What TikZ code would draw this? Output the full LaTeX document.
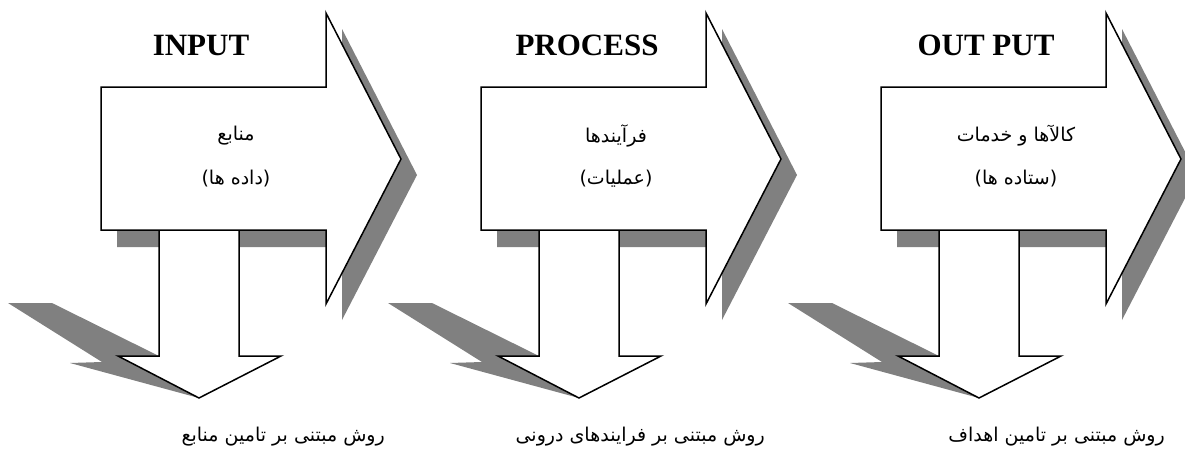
\documentclass[tikz,border=0pt]{standalone}
\usepackage{fontspec}
\setmainfont{Liberation Serif}
\newfontfamily\farsifont[Script=Arabic]{DejaVu Sans}
\TeXXeTstate=1
\usetikzlibrary{positioning}
\definecolor{shadowgray}{RGB}{128,128,128}
\tikzset{
    %Define style for the big arrows
    arrowbox/.style={
           draw=black,
           line width=1.5pt,
           line join=miter,
           fill=white},
    %Define style for the flat shadows
    arrowshadow/.style={
           fill=shadowgray,
           draw=none},
    %Define styles for texts
    titletext/.style={
           font=\bfseries\fontsize{31}{31}\selectfont,
           inner sep=0pt},
    farsitext/.style={
           font=\farsifont\fontsize{19}{19}\selectfont,
           inner sep=0pt}
}
\newcommand{\rtl}[1]{\beginR #1\endR}

\begin{document}
\begin{tikzpicture}[x=1pt,y=-1pt]
\useasboundingbox (0,0) rectangle (1185,461);
\foreach \i/\dx/\tx/\ttl/\lineA/\lineB/\lbl in {
    1/0/201/INPUT/{منابع}/{(داده ها)}/{روش مبتنی بر تامین منابع},
    2/380/207/PROCESS/{فرآیندها}/{(عملیات)}/{روش مبتنی بر فرایندهای درونی},
    3/780/206/OUT PUT/{کالآها و خدمات}/{(ستاده ها)}/{روش مبتنی بر تامین اهداف}}{
  \begin{scope}[xshift=\dx]
  % shadows
  \fill[arrowshadow] (117,103) -- (342,103) -- (342,29) -- (417,175) -- (342,320) -- (342,247) -- (117,247) -- cycle;
  \fill[arrowshadow] (8,303) -- (52,303) -- (159,356) -- (199,398) -- (70,363) -- (102,362) -- cycle;
  % down arrow
  \draw[arrowbox] (159,230) -- (239,230) -- (239,356) -- (281,356) -- (199,398) -- (118,356) -- (159,356) -- cycle;
  % right arrow
  \draw[arrowbox] (101,87) -- (326,87) -- (326,13) -- (401,159) -- (326,304) -- (326,230) -- (101,230) -- cycle;
  % texts
  \node[titletext] (title\i) at (\tx,45) {\ttl};
  \node[farsitext] (main\i) at (236,136) {\rtl{\lineA}};
  \node[farsitext] (sub\i) at (236,179) {\rtl{\lineB}};
  \node[farsitext, anchor=east] (method\i) at (385,437) {\rtl{\lbl}};
  \end{scope}
}
\end{tikzpicture}
\end{document}
